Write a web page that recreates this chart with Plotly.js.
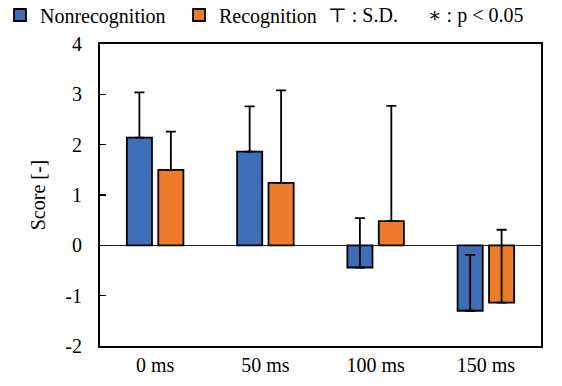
<!DOCTYPE html>
<html>
<head>
<meta charset="utf-8">
<script src="https://cdn.plot.ly/plotly-3.0.1.min.js"></script>
<style>html,body{margin:0;padding:0;background:#fff;}#chart{width:562px;height:386px;}</style>
</head>
<body>
<div id="chart"></div>
<script>
const categories = ["0 ms", "50 ms", "100 ms", "150 ms"];
const nonrecognitionMean = [2.14, 1.86, -0.44, -1.30];
const nonrecognitionSD = [0.90, 0.90, 0.98, 1.11];
const recognitionMean = [1.50, 1.24, 0.48, -1.14];
const recognitionSD = [0.76, 1.84, 2.29, 1.45];
const yTicks = [-2, -1, 0, 1, 2, 3, 4];

const font = "Liberation Serif, Times New Roman, DejaVu Serif, serif";
const zeros = categories.map(() => 0);

function errBar(sd) {
  return {type: 'data', symmetric: false, array: sd, arrayminus: zeros,
          color: '#000', thickness: 1.8, width: 5};
}

const traces = [
  {type: 'bar', name: 'Nonrecognition', x: categories, y: nonrecognitionMean,
   marker: {color: '#3F6DB6', line: {color: '#000', width: 1.8}},
   error_y: errBar(nonrecognitionSD)},
  {type: 'bar', name: 'Recognition', x: categories, y: recognitionMean,
   marker: {color: '#EC7C2C', line: {color: '#000', width: 1.8}},
   error_y: errBar(recognitionSD)}
];

const W = 562, H = 386;
const plotL = 100, plotR = 541, plotT = 44, plotB = 346;
function px2paperX(px) { return (px - plotL) / (plotR - plotL); }
function px2paperY(py) { return (plotB - py) / (plotB - plotT); }

const layout = {
  width: W, height: H,
  margin: {l: plotL, r: W - plotR, t: plotT, b: H - plotB},
  paper_bgcolor: '#fff', plot_bgcolor: '#fff',
  font: {family: font, size: 20, color: '#000'},
  barmode: 'group', bargap: 0.43, bargroupgap: 0.2,
  showlegend: true,
  legend: {orientation: 'h', xref: 'container', yref: 'container',
           x: 0, y: 1 - 15 / H, xanchor: 'left', yanchor: 'middle',
           font: {family: font, size: 20, color: '#000'},
           itemwidth: 30, entrywidth: 134, entrywidthmode: 'pixels',
           traceorder: 'normal', bgcolor: 'rgba(0,0,0,0)'},
  xaxis: {type: 'category', showline: true, mirror: true, linecolor: '#000', linewidth: 2,
          ticks: '', showgrid: false, zeroline: false,
          tickfont: {family: font, size: 20, color: '#000'}},
  yaxis: {range: [-2, 4], tickvals: yTicks, ticktext: yTicks.map(String),
          showline: true, mirror: true, linecolor: '#000', linewidth: 2,
          ticks: 'inside', ticklen: 6, tickwidth: 1.5, tickcolor: '#000',
          ticklabelstandoff: 12,
          showgrid: false, zeroline: true, zerolinecolor: '#222', zerolinewidth: 1.5,
          tickfont: {family: font, size: 20, color: '#000'},
          title: {text: 'Score [-]', standoff: 14, font: {family: font, size: 20, color: '#000'}}},
  annotations: [
    {xref: 'paper', yref: 'paper', x: px2paperX(326), y: px2paperY(15), xanchor: 'left', yanchor: 'middle',
     text: '\u22A4 : S.D.', showarrow: false, font: {family: font, size: 20, color: '#000'}},
    {xref: 'paper', yref: 'paper', x: px2paperX(426), y: px2paperY(15), xanchor: 'left', yanchor: 'middle',
     text: '\u2217 : p < 0.05', showarrow: false, font: {family: font, size: 20, color: '#000'}}
  ]
};

Plotly.newPlot('chart', traces, layout, {displayModeBar: false, staticPlot: true});
</script>
</body>
</html>
